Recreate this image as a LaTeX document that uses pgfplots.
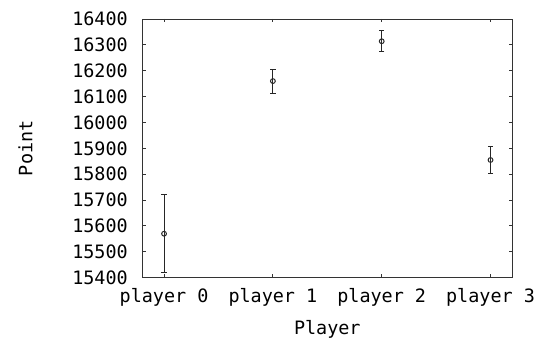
\documentclass[border=0pt]{standalone}
\usepackage{fontspec}
\setmainfont{DejaVu Sans Mono}
\usepackage{pgfplots}
\pgfplotsset{compat=1.18}
\begin{document}
\begin{tikzpicture}
\begin{axis}[
  at={(0,0)}, anchor=south west,
  scale only axis,
  width=370bp, height=258.7bp,
  xmin=-0.2, xmax=3.2,
  ymin=15400, ymax=16400,
  xtick={0,1,2,3},
  xticklabels={player 0, player 1, player 2, player 3},
  ytick={15400,15500,...,16400},
  scaled y ticks=false,
  /pgf/number format/assume math mode=true,
  /pgf/number format/set thousands separator={},
  /pgf/number format/fixed,
  tick align=inside,
  major tick length=3.5bp,
  axis line style={line width=1pt, black!80},
  every tick/.style={line width=1pt, black!80},
  tick label style={font=\fontsize{18.5}{20}\selectfont},
  label style={font=\fontsize{18.5}{20}\selectfont},
  yticklabel style={xshift=-11bp},
  xticklabel style={yshift=-7bp},
  xlabel={Player},
  ylabel={Point},
  ylabel style={at={(axis description cs:-0.316,0.5)}, anchor=center},
  xlabel style={at={(axis description cs:0.5,-0.201)}, anchor=center},
]
\addplot[only marks, mark=o, mark size=2.4pt, line width=1pt, black!85,
  error bars/.cd, y dir=both, y explicit,
  error bar style={line width=1pt, black!85},
  error mark options={rotate=90, mark size=2.7bp, line width=1pt, black!85}]
  table[x=x, y=y, y error plus=ep, y error minus=em] {
x y ep em
0 15570 151 149
1 16160 46 47
2 16314 41 40
3 15855 54 54
};
\end{axis}
\pgfresetboundingbox
\path[use as bounding box] (-142.3bp,-68.3bp) rectangle (405.7bp,277.7bp);
\end{tikzpicture}
\end{document}
